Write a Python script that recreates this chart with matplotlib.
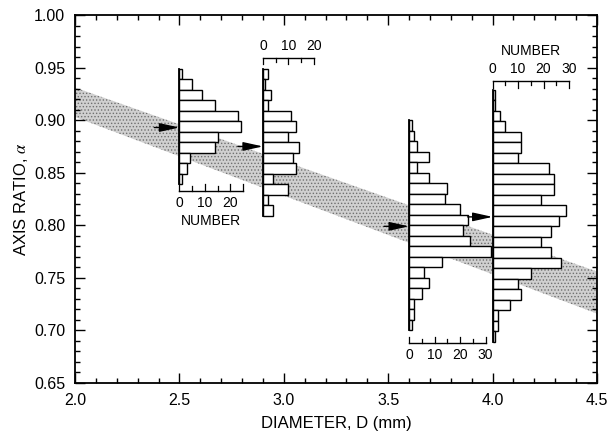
import matplotlib
matplotlib.use("Agg")
import matplotlib.pyplot as plt
from matplotlib.ticker import MultipleLocator, FormatStrFormatter
import numpy as np

plt.rcParams["font.family"] = ["Liberation Sans", "DejaVu Sans"]
plt.rcParams["mathtext.fontset"] = "stix"
plt.rcParams["hatch.linewidth"] = 0.6

# faixa cinza (ajuste alpha x D)
BAND_D = [2.0, 4.5]
BAND_TOP = [0.931, 0.756]
BAND_BOT = [0.903, 0.716]

# histogramas: contagem por classe de 0.01 em alpha, de cima para baixo
H1_COUNTS = [1, 5, 9, 14, 23, 24, 15, 14, 4, 3, 1]
H2_COUNTS = [2, 1, 3, 2, 11, 13, 10, 14, 12, 13, 4, 10, 2, 4]
H3_COUNTS = [1, 2, 3, 8, 3, 8, 15, 14, 20, 23, 21, 24, 32, 13, 6, 8, 5, 2, 2, 1]
H4_COUNTS = [1, 1, 3, 5, 11, 11, 10, 22, 24, 24, 19, 29, 26, 23, 19, 23, 27,
             15, 10, 11, 7, 2, 2, 1]

H_DIAM = [2.5, 2.9, 3.6, 4.0]          # diâmetro de cada histograma
H_TOP = [0.949, 0.949, 0.900, 0.929]   # borda superior da 1a classe
H_MEAN = [0.893, 0.875, 0.799, 0.808]  # seta (média)
H_AXMAX = [25, 20, 30, 30]
H_TICKLABELS = [[0, 10, 20], [0, 10, 20], [0, 10, 20, 30], [0, 10, 20, 30]]

BIN = 0.01
K = 0.0122   # unidades de D por contagem

# (posição alpha do eixo de contagem, lado dos rótulos, mostra "NUMBER")
EIXOS = [(0.833, "bottom", True), (0.959, "top", False),
         (0.688, "bottom", False), (0.937, "top", True)]

fig = plt.figure(figsize=(6.08, 4.32), dpi=100)
ax = fig.add_axes([75 / 608, 1 - 383 / 432, (597 - 75) / 608, (383 - 15) / 432])

ax.fill_between(BAND_D, BAND_BOT, BAND_TOP, facecolor="#d0d0d0",
                edgecolor="#707070", hatch=".....", linewidth=0, zorder=1)

todos = [H1_COUNTS, H2_COUNTS, H3_COUNTS, H4_COUNTS]
for i, counts in enumerate(todos):
    base = H_DIAM[i]
    c = np.array(counts, dtype=float)
    centros = H_TOP[i] - BIN * (np.arange(len(c)) + 0.5)
    ax.barh(centros, c * K, height=BIN, left=base, color="white",
            edgecolor="black", linewidth=1.0, zorder=3)
    ax.plot([base, base], [H_TOP[i], H_TOP[i] - BIN * len(c)], color="black",
            lw=1.3, zorder=4)

    # seta da média
    ax.annotate("", xy=(base, H_MEAN[i]), xytext=(base - 0.12, H_MEAN[i]),
                arrowprops=dict(arrowstyle="-|>,head_length=1.0,head_width=0.22",
                                color="black", lw=1.0, shrinkA=0, shrinkB=0,
                                mutation_scale=12), zorder=6)

    # eixo de contagem
    ya, lado, num = EIXOS[i]
    sinal = 1 if lado == "bottom" else -1
    ax.plot([base, base + K * H_AXMAX[i]], [ya, ya], color="black", lw=1.0, zorder=4)
    for t in range(0, H_AXMAX[i] + 1, 5):
        comp = 0.006 if (t % 10 == 0 or t == H_AXMAX[i]) else 0.004
        ax.plot([base + K * t] * 2, [ya, ya + sinal * comp], color="black",
                lw=0.9, zorder=4)
    for t in H_TICKLABELS[i]:
        if lado == "bottom":
            ax.text(base + K * t, ya - 0.005, str(t), ha="center", va="top",
                    fontsize=10, zorder=5)
        else:
            ax.text(base + K * t, ya + 0.005, str(t), ha="center", va="bottom",
                    fontsize=10, zorder=5)
    if num:
        meio = base + K * H_AXMAX[i] / 2
        if lado == "bottom":
            ax.text(meio, ya - 0.022, "NUMBER", ha="center", va="top", fontsize=10)
        else:
            ax.text(meio, ya + 0.022, "NUMBER", ha="center", va="bottom", fontsize=10)

ax.set_xlim(2.0, 4.5)
ax.set_ylim(0.65, 1.00)
ax.xaxis.set_major_locator(MultipleLocator(0.5))
ax.xaxis.set_minor_locator(MultipleLocator(0.1))
ax.yaxis.set_major_locator(MultipleLocator(0.05))
ax.yaxis.set_minor_locator(MultipleLocator(0.01))
ax.xaxis.set_major_formatter(FormatStrFormatter("%.1f"))
ax.yaxis.set_major_formatter(FormatStrFormatter("%.2f"))
ax.tick_params(which="both", direction="in", top=True, right=True, width=1.0,
               labelsize=11.5, pad=7)
ax.tick_params(which="major", length=7)
ax.tick_params(which="minor", length=3.5)
for s in ax.spines.values():
    s.set_linewidth(1.3)

ax.set_xlabel("DIAMETER, D (mm)", fontsize=12, labelpad=6)
ax.set_ylabel(r"AXIS RATIO, $\alpha$", fontsize=12, labelpad=3)

fig.savefig("out.png", dpi=100)
